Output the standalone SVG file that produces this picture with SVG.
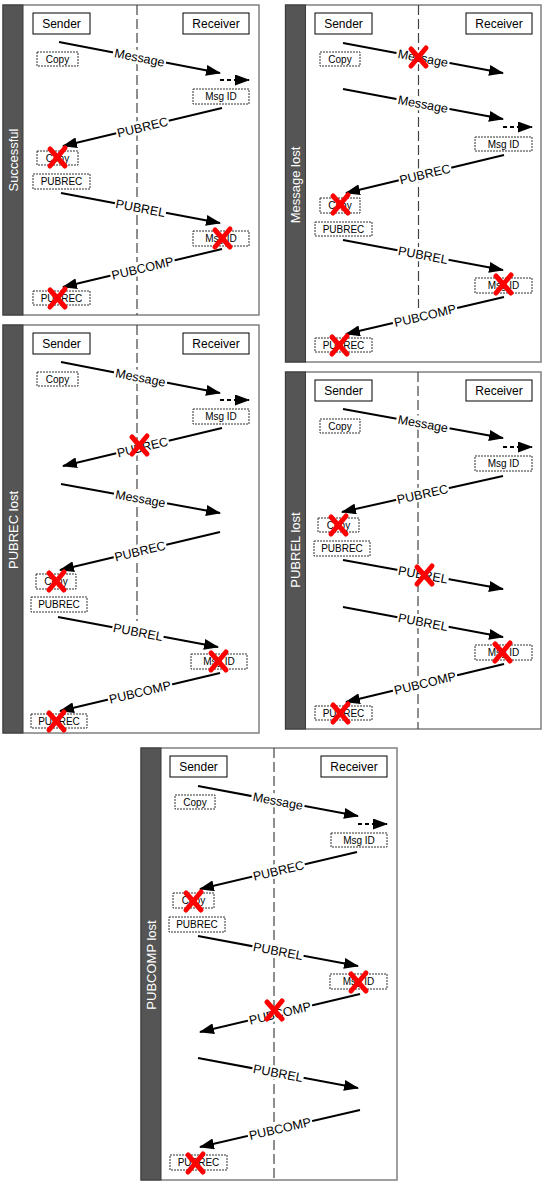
<svg xmlns="http://www.w3.org/2000/svg" width="545" height="1196" viewBox="0 0 545 1196">
<style>
.frame{fill:#fff;stroke:#808080;stroke-width:1.5}
.side{fill:#555;stroke:#3a3a3a;stroke-width:1}
.side-t{font-family:"Liberation Sans",Arial,sans-serif;font-size:13px;fill:#fff;text-anchor:middle}
.lane{stroke:#444;stroke-width:1.2;stroke-dasharray:10,4;fill:none}
.actor{fill:#fff;stroke:#000;stroke-width:1}
.actor-t{font-family:"Liberation Sans",Arial,sans-serif;font-size:12px;fill:#000;text-anchor:middle}
.note{fill:#fff;stroke:#333;stroke-width:1;stroke-dasharray:2,1}
.note-t{font-family:"Liberation Sans",Arial,sans-serif;font-size:10px;fill:#000;text-anchor:middle}
.msg{stroke:#000;stroke-width:2;fill:none;marker-end:url(#ah)}
.dmsg{stroke:#000;stroke-width:2;fill:none;stroke-dasharray:4,3;marker-end:url(#ah)}
.lbl-bg{fill:#fff}
.lbl{font-family:"Liberation Sans",Arial,sans-serif;font-size:12.5px;fill:#000;text-anchor:middle}
.rx{stroke:#f00;stroke-width:5;fill:none;stroke-linecap:round}
</style>
<defs>
<marker id="ah" markerUnits="userSpaceOnUse" markerWidth="15" markerHeight="11" refX="14" refY="5.5" orient="auto">
<path d="M0,0 L15,5.5 L0,11 z" fill="#000"/>
</marker>
<g id="redx"><path class="rx" d="M-7,-8 L8,9"/><path class="rx" d="M8,-9 L-7,9"/></g>
</defs>

<!-- Panels -->
<g id="panel-successful">
<rect class="frame" x="3" y="5" width="256" height="310"/>
<rect class="side" x="3" y="5" width="20" height="310"/>
<text class="side-t" transform="translate(17.5,160) rotate(-90)">Successful</text>
<line class="lane" x1="137" y1="5" x2="137" y2="315"/>
</g>
<g id="panel-message-lost">
<rect class="frame" x="285.5" y="5" width="255.5" height="357"/>
<rect class="side" x="285.5" y="5" width="20" height="357"/>
<text class="side-t" transform="translate(300,185) rotate(-90)">Message lost</text>
<line class="lane" x1="418.5" y1="5" x2="418.5" y2="308"/>
</g>
<g id="panel-pubrec-lost">
<rect class="frame" x="3" y="325" width="256" height="408"/>
<rect class="side" x="3" y="325" width="20" height="408"/>
<text class="side-t" transform="translate(17.5,530) rotate(-90)">PUBREC lost</text>
<line class="lane" x1="137" y1="325" x2="137" y2="621"/>
</g>
<g id="panel-pubrel-lost">
<rect class="frame" x="285.5" y="372" width="255.5" height="357"/>
<rect class="side" x="285.5" y="372" width="20" height="357"/>
<text class="side-t" transform="translate(300,550) rotate(-90)">PUBREL lost</text>
<line class="lane" x1="418" y1="372" x2="418" y2="729"/>
</g>
<g id="panel-pubcomp-lost">
<rect class="frame" x="141" y="748" width="256" height="432"/>
<rect class="side" x="141" y="748" width="20" height="432"/>
<text class="side-t" transform="translate(155.5,965) rotate(-90)">PUBCOMP lost</text>
<line class="lane" x1="274" y1="748" x2="274" y2="1180"/>
</g>

<!-- Panel 1 nodes -->
<g id="p1-sender"><rect class="actor" x="33" y="13" width="57" height="21"/><text class="actor-t" x="61.5" y="28">Sender</text></g>
<g id="p1-receiver"><rect class="actor" x="183" y="13" width="66" height="21"/><text class="actor-t" x="216" y="28">Receiver</text></g>
<g id="p1-copy"><rect class="note" x="37" y="52" width="41" height="14"/><text class="note-t" x="57.5" y="62.5">Copy</text></g>
<g id="p1-msgid"><rect class="note" x="193" y="89" width="56" height="15"/><text class="note-t" x="221" y="100">Msg ID</text></g>
<g id="p1-copy2"><rect class="note" x="37" y="151" width="41" height="14"/><text class="note-t" x="57.5" y="161.5">Copy</text></g>
<g id="p1-pubrec"><rect class="note" x="33" y="174" width="57" height="15"/><text class="note-t" x="61.5" y="185">PUBREC</text></g>
<g id="p1-msgid2"><rect class="note" x="193" y="231" width="56" height="15"/><text class="note-t" x="221" y="242">Msg ID</text></g>
<g id="p1-pubrec2"><rect class="note" x="33" y="291" width="57" height="14"/><text class="note-t" x="61.5" y="301.5">PUBREC</text></g>

<!-- Panel 2 nodes -->
<g id="p2-sender"><rect class="actor" x="315" y="13" width="57" height="21"/><text class="actor-t" x="343.5" y="28">Sender</text></g>
<g id="p2-receiver"><rect class="actor" x="466" y="13" width="66" height="21"/><text class="actor-t" x="499" y="28">Receiver</text></g>
<g id="p2-copy"><rect class="note" x="320" y="52" width="40" height="14"/><text class="note-t" x="340" y="62.5">Copy</text></g>
<g id="p2-msgid"><rect class="note" x="475" y="137" width="57" height="14"/><text class="note-t" x="503.5" y="147.5">Msg ID</text></g>
<g id="p2-copy2"><rect class="note" x="320" y="198" width="40" height="15"/><text class="note-t" x="340" y="209">Copy</text></g>
<g id="p2-pubrec"><rect class="note" x="315" y="222" width="57" height="14"/><text class="note-t" x="343.5" y="232.5">PUBREC</text></g>
<g id="p2-msgid2"><rect class="note" x="475" y="278" width="57" height="15"/><text class="note-t" x="503.5" y="289">Msg ID</text></g>
<g id="p2-pubrec2"><rect class="note" x="315" y="338" width="57" height="14"/><text class="note-t" x="343.5" y="348.5">PUBREC</text></g>

<!-- Panel 3 nodes -->
<g id="p3-sender"><rect class="actor" x="33" y="333" width="57" height="21"/><text class="actor-t" x="61.5" y="348">Sender</text></g>
<g id="p3-receiver"><rect class="actor" x="183" y="333" width="66" height="21"/><text class="actor-t" x="216" y="348">Receiver</text></g>
<g id="p3-copy"><rect class="note" x="37" y="372" width="41" height="14"/><text class="note-t" x="57.5" y="382.5">Copy</text></g>
<g id="p3-msgid"><rect class="note" x="193" y="409" width="56" height="15"/><text class="note-t" x="221" y="420">Msg ID</text></g>
<g id="p3-copy2"><rect class="note" x="36" y="574" width="40" height="15"/><text class="note-t" x="56" y="585">Copy</text></g>
<g id="p3-pubrec"><rect class="note" x="31" y="597" width="56" height="15"/><text class="note-t" x="59" y="608">PUBREC</text></g>
<g id="p3-msgid2"><rect class="note" x="191" y="654" width="56" height="15"/><text class="note-t" x="219" y="665">Msg ID</text></g>
<g id="p3-pubrec2"><rect class="note" x="31" y="714" width="56" height="14"/><text class="note-t" x="59" y="724.5">PUBREC</text></g>

<!-- Panel 4 nodes -->
<g id="p4-sender"><rect class="actor" x="315" y="380" width="57" height="21"/><text class="actor-t" x="343.5" y="395">Sender</text></g>
<g id="p4-receiver"><rect class="actor" x="466" y="380" width="66" height="21"/><text class="actor-t" x="499" y="395">Receiver</text></g>
<g id="p4-copy"><rect class="note" x="320" y="419" width="40" height="14"/><text class="note-t" x="340" y="429.5">Copy</text></g>
<g id="p4-msgid"><rect class="note" x="475" y="456" width="57" height="15"/><text class="note-t" x="503.5" y="467">Msg ID</text></g>
<g id="p4-copy2"><rect class="note" x="318" y="518" width="41" height="14"/><text class="note-t" x="338.5" y="528.5">Copy</text></g>
<g id="p4-pubrec"><rect class="note" x="314" y="541" width="56" height="15"/><text class="note-t" x="342" y="552">PUBREC</text></g>
<g id="p4-msgid2"><rect class="note" x="475" y="645" width="57" height="15"/><text class="note-t" x="503.5" y="656">Msg ID</text></g>
<g id="p4-pubrec2"><rect class="note" x="315" y="706" width="57" height="14"/><text class="note-t" x="343.5" y="716.5">PUBREC</text></g>

<!-- Panel 5 nodes -->
<g id="p5-sender"><rect class="actor" x="170" y="756" width="57" height="21"/><text class="actor-t" x="198.5" y="771">Sender</text></g>
<g id="p5-receiver"><rect class="actor" x="321" y="756" width="66" height="21"/><text class="actor-t" x="354" y="771">Receiver</text></g>
<g id="p5-copy"><rect class="note" x="175" y="795" width="40" height="14"/><text class="note-t" x="195" y="805.5">Copy</text></g>
<g id="p5-msgid"><rect class="note" x="331" y="833" width="56" height="14"/><text class="note-t" x="359" y="843.5">Msg ID</text></g>
<g id="p5-copy2"><rect class="note" x="173" y="893" width="41" height="15"/><text class="note-t" x="193.5" y="904">Copy</text></g>
<g id="p5-pubrec"><rect class="note" x="169" y="917" width="56" height="15"/><text class="note-t" x="197" y="928">PUBREC</text></g>
<g id="p5-msgid2"><rect class="note" x="330" y="974" width="57" height="15"/><text class="note-t" x="358.5" y="985">Msg ID</text></g>
<g id="p5-pubrec2"><rect class="note" x="170" y="1155" width="57" height="15"/><text class="note-t" x="198.5" y="1166">PUBREC</text></g>

<!-- Connectors -->
<g id="connectors">
<!-- Panel 1 -->
<line class="msg" x1="59" y1="42" x2="220" y2="73"/>
<line class="dmsg" x1="220" y1="80" x2="249" y2="80"/>
<line class="msg" x1="222" y1="108" x2="63" y2="146"/>
<line class="msg" x1="61" y1="193" x2="220" y2="223"/>
<line class="msg" x1="222" y1="249" x2="63" y2="287"/>
<g transform="translate(139.5,57.5) rotate(10.9)"><rect class="lbl-bg" x="-27" y="-7" width="54" height="14"/><text class="lbl" y="4.5">Message</text></g>
<g transform="translate(142.5,127) rotate(-13.4)"><rect class="lbl-bg" x="-27" y="-7" width="54" height="14"/><text class="lbl" y="4.5">PUBREC</text></g>
<g transform="translate(140.5,208) rotate(10.7)"><rect class="lbl-bg" x="-26" y="-7" width="52" height="14"/><text class="lbl" y="4.5">PUBREL</text></g>
<g transform="translate(142.5,268) rotate(-13.4)"><rect class="lbl-bg" x="-33" y="-7" width="66" height="14"/><text class="lbl" y="4.5">PUBCOMP</text></g>

<!-- Panel 2 -->
<line class="msg" x1="343" y1="43" x2="503" y2="73"/>
<line class="msg" x1="343" y1="89" x2="503" y2="119"/>
<line class="dmsg" x1="503" y1="127" x2="532" y2="127"/>
<line class="msg" x1="504" y1="155" x2="346" y2="193"/>
<line class="msg" x1="343" y1="240" x2="503" y2="270"/>
<line class="msg" x1="504" y1="297" x2="346" y2="334"/>
<g transform="translate(423,58) rotate(10.6)"><rect class="lbl-bg" x="-27" y="-7" width="54" height="14"/><text class="lbl" y="4.5">Message</text></g>
<g transform="translate(423,104) rotate(10.6)"><rect class="lbl-bg" x="-27" y="-7" width="54" height="14"/><text class="lbl" y="4.5">Message</text></g>
<g transform="translate(425,174) rotate(-13.5)"><rect class="lbl-bg" x="-27" y="-7" width="54" height="14"/><text class="lbl" y="4.5">PUBREC</text></g>
<g transform="translate(423,255) rotate(10.6)"><rect class="lbl-bg" x="-26" y="-7" width="52" height="14"/><text class="lbl" y="4.5">PUBREL</text></g>
<g transform="translate(425,315.5) rotate(-13.2)"><rect class="lbl-bg" x="-33" y="-7" width="66" height="14"/><text class="lbl" y="4.5">PUBCOMP</text></g>

<!-- Panel 3 -->
<line class="msg" x1="61" y1="362" x2="220" y2="393"/>
<line class="dmsg" x1="220" y1="400" x2="249" y2="400"/>
<line class="msg" x1="222" y1="428" x2="63" y2="466"/>
<line class="msg" x1="61" y1="484" x2="220" y2="513"/>
<line class="msg" x1="220" y1="532" x2="60" y2="570"/>
<line class="msg" x1="58" y1="617" x2="218" y2="647"/>
<line class="msg" x1="220" y1="673" x2="60" y2="711"/>
<g transform="translate(140.5,377.5) rotate(11)"><rect class="lbl-bg" x="-27" y="-7" width="54" height="14"/><text class="lbl" y="4.5">Message</text></g>
<g transform="translate(142.5,447) rotate(-13.4)"><rect class="lbl-bg" x="-27" y="-7" width="54" height="14"/><text class="lbl" y="4.5">PUBREC</text></g>
<g transform="translate(140.5,498.5) rotate(10.3)"><rect class="lbl-bg" x="-27" y="-7" width="54" height="14"/><text class="lbl" y="4.5">Message</text></g>
<g transform="translate(140,551) rotate(-13.4)"><rect class="lbl-bg" x="-27" y="-7" width="54" height="14"/><text class="lbl" y="4.5">PUBREC</text></g>
<g transform="translate(138,632) rotate(10.6)"><rect class="lbl-bg" x="-26" y="-7" width="52" height="14"/><text class="lbl" y="4.5">PUBREL</text></g>
<g transform="translate(140,692) rotate(-13.4)"><rect class="lbl-bg" x="-33" y="-7" width="66" height="14"/><text class="lbl" y="4.5">PUBCOMP</text></g>

<!-- Panel 4 -->
<line class="msg" x1="343" y1="409" x2="503" y2="438"/>
<line class="dmsg" x1="503" y1="447" x2="532" y2="447"/>
<line class="msg" x1="503" y1="476" x2="342" y2="512"/>
<line class="msg" x1="343" y1="560" x2="503" y2="589"/>
<line class="msg" x1="343" y1="607" x2="503" y2="637"/>
<line class="msg" x1="504" y1="664" x2="346" y2="702"/>
<g transform="translate(423,423.5) rotate(10.3)"><rect class="lbl-bg" x="-27" y="-7" width="54" height="14"/><text class="lbl" y="4.5">Message</text></g>
<g transform="translate(422.5,494) rotate(-12.6)"><rect class="lbl-bg" x="-27" y="-7" width="54" height="14"/><text class="lbl" y="4.5">PUBREC</text></g>
<g transform="translate(423,574.5) rotate(10.3)"><rect class="lbl-bg" x="-26" y="-7" width="52" height="14"/><text class="lbl" y="4.5">PUBREL</text></g>
<g transform="translate(423,622) rotate(10.6)"><rect class="lbl-bg" x="-26" y="-7" width="52" height="14"/><text class="lbl" y="4.5">PUBREL</text></g>
<g transform="translate(425,683) rotate(-13.5)"><rect class="lbl-bg" x="-33" y="-7" width="66" height="14"/><text class="lbl" y="4.5">PUBCOMP</text></g>

<!-- Panel 5 -->
<line class="msg" x1="198" y1="786" x2="358" y2="816"/>
<line class="dmsg" x1="358" y1="824" x2="387" y2="824"/>
<line class="msg" x1="357" y1="852" x2="200" y2="889"/>
<line class="msg" x1="198" y1="936" x2="358" y2="966"/>
<line class="msg" x1="360" y1="994" x2="200" y2="1032"/>
<line class="msg" x1="198" y1="1058" x2="358" y2="1088"/>
<line class="msg" x1="360" y1="1110" x2="200" y2="1147"/>
<g transform="translate(278,801) rotate(10.6)"><rect class="lbl-bg" x="-27" y="-7" width="54" height="14"/><text class="lbl" y="4.5">Message</text></g>
<g transform="translate(278.5,870.5) rotate(-13.3)"><rect class="lbl-bg" x="-27" y="-7" width="54" height="14"/><text class="lbl" y="4.5">PUBREC</text></g>
<g transform="translate(278,951) rotate(10.6)"><rect class="lbl-bg" x="-26" y="-7" width="52" height="14"/><text class="lbl" y="4.5">PUBREL</text></g>
<g transform="translate(280,1013) rotate(-13.4)"><rect class="lbl-bg" x="-33" y="-7" width="66" height="14"/><text class="lbl" y="4.5">PUBCOMP</text></g>
<g transform="translate(278,1073) rotate(10.6)"><rect class="lbl-bg" x="-26" y="-7" width="52" height="14"/><text class="lbl" y="4.5">PUBREL</text></g>
<g transform="translate(280,1128.5) rotate(-13)"><rect class="lbl-bg" x="-33" y="-7" width="66" height="14"/><text class="lbl" y="4.5">PUBCOMP</text></g>
</g>

<!-- Red X marks -->
<g id="marks">
<use href="#redx" x="57" y="157"/>
<use href="#redx" x="222" y="238"/>
<use href="#redx" x="57" y="298"/>
<use href="#redx" x="418" y="57"/>
<use href="#redx" x="340" y="204"/>
<use href="#redx" x="503" y="284"/>
<use href="#redx" x="339" y="345"/>
<use href="#redx" x="139" y="445"/>
<use href="#redx" x="56" y="581"/>
<use href="#redx" x="218" y="661"/>
<use href="#redx" x="56" y="721"/>
<use href="#redx" x="338" y="525"/>
<use href="#redx" x="424" y="575"/>
<use href="#redx" x="502" y="652"/>
<use href="#redx" x="340" y="713"/>
<use href="#redx" x="193" y="901"/>
<use href="#redx" x="358" y="982"/>
<use href="#redx" x="274" y="1010"/>
<use href="#redx" x="195" y="1163"/>
</g>
</svg>
